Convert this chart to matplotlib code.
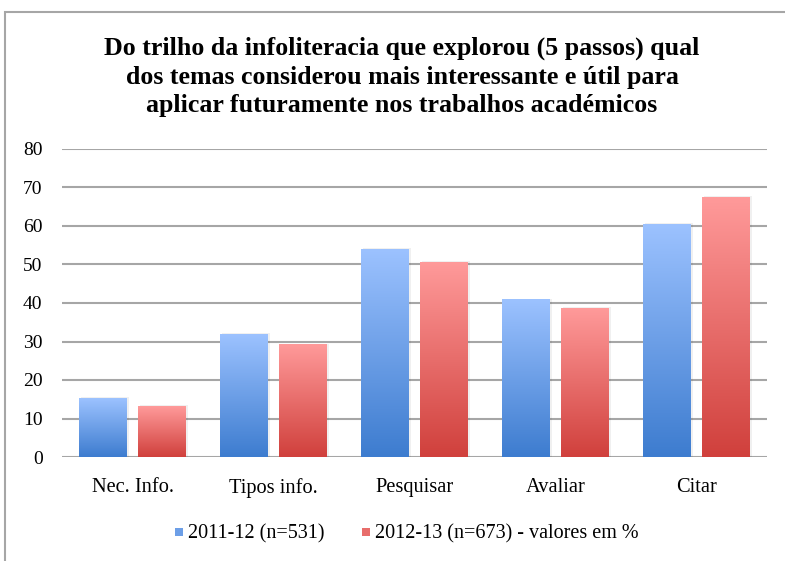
import numpy as np
import matplotlib
matplotlib.use('Agg')
import matplotlib.pyplot as plt
import matplotlib.colors as colors
from matplotlib.patches import Rectangle

# Data
categories = ['Nec. Info.', 'Tipos info.', 'Pesquisar', 'Avaliar', 'Citar']
series_2011 = [15.3, 31.9, 54.0, 40.8, 60.5]
series_2012 = [13.2, 29.1, 50.6, 38.7, 67.5]
labels = ['2011-12 (n=531)', '2012-13 (n=673) - valores em %']
title = ('Do trilho da infoliteracia que explorou (5 passos) qual\n'
         'dos temas considerou mais interessante e útil para\n'
         'aplicar futuramente nos trabalhos académicos')

BLUE = ('#9cc2ff', '#3d7ccf')
RED = ('#ff9a9a', '#d0403c')
GRID = '#a6a6a6'

plt.rcParams['font.family'] = ['Liberation Serif', 'DejaVu Serif']

fig = plt.figure(figsize=(7.85, 5.61), dpi=100)

# outer chart frame (cut off at right and bottom like the screenshot)
fig.patches.append(Rectangle((5 / 785, -0.1), 1.0, 1 - 12 / 561 + 0.1,
                             transform=fig.transFigure, fill=False,
                             edgecolor=GRID, linewidth=1.5))

ax = fig.add_axes([62 / 785, 1 - 457 / 561, 705 / 785, 308 / 561])


def grad_bar(ax, x, h, w, cols):
    cmap = colors.LinearSegmentedColormap.from_list('g', [cols[1], cols[0]])
    grad = np.linspace(0, 1, 256).reshape(-1, 1)
    # faint shadow
    ax.add_patch(Rectangle((x - w / 2 + 0.012, 0), w, h + 0.25,
                           facecolor='#000000', alpha=0.06, edgecolor='none',
                           zorder=2))
    ax.imshow(grad, extent=(x - w / 2, x + w / 2, 0, h), origin='lower',
              cmap=cmap, aspect='auto', zorder=3, interpolation='bilinear')


w = 0.34
for i, (a, b) in enumerate(zip(series_2011, series_2012)):
    grad_bar(ax, i - 0.21, a, w, BLUE)
    grad_bar(ax, i + 0.21, b, w, RED)

ax.set_xlim(-0.5, 4.5)
ax.set_ylim(0, 80)
ax.set_yticks(range(0, 81, 10))
ax.set_xticks(range(len(categories)))
ax.set_xticklabels(categories, fontsize=14.7)
ax.tick_params(axis='both', length=0, colors='#000000')
ax.tick_params(axis='y', labelsize=14, pad=14)
ax.tick_params(axis='x', pad=15)
ax.grid(axis='y', color=GRID, linewidth=1.5, zorder=1)
ax.set_axisbelow(True)
for s in ax.spines.values():
    s.set_visible(False)

fig.text(402 / 785, 1 - 77 / 561, title, ha='center', va='center',
         fontsize=18.6, fontweight='bold', linespacing=1.3)

# legend
leg_y = 1 - 532 / 561
sq = 8 / 785
for x0, cols, lab in [(175 / 785, BLUE, labels[0]), (362 / 785, RED, labels[1])]:
    fig.patches.append(Rectangle((x0, leg_y - 4 / 561), sq, 8 / 561,
                                 transform=fig.transFigure,
                                 facecolor=colors.to_hex(np.mean([colors.to_rgb(c) for c in cols], axis=0)),
                                 edgecolor='none'))
    fig.text(x0 + 13 / 785, leg_y - 2 / 561, lab, ha='left', va='center', fontsize=14.5)

fig.savefig('out.png', dpi=100, facecolor='white')
